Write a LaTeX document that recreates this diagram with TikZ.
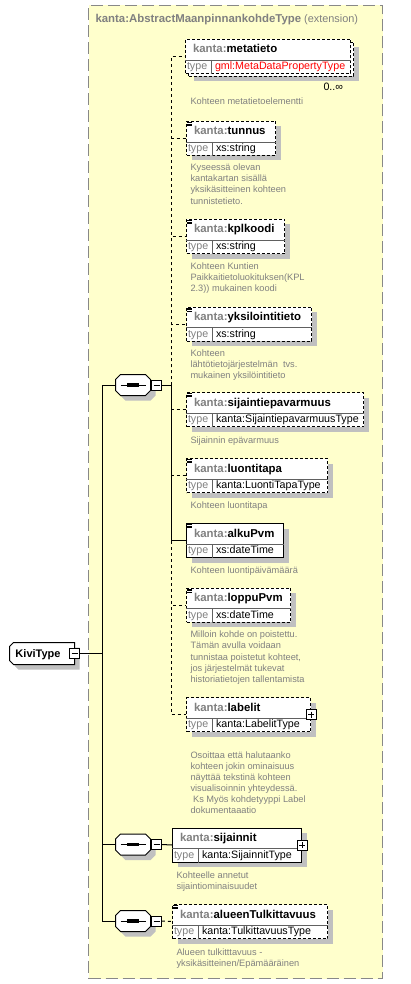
\documentclass[tikz,border=0pt]{standalone}
\usepackage{fontspec}
\setmainfont{Liberation Sans}
\usetikzlibrary{shadows,calc}
\definecolor{bgyellow}{RGB}{255,255,204}
\definecolor{frameg}{RGB}{136,136,136}
\definecolor{shadowg}{RGB}{192,192,192}
\definecolor{pfxg}{RGB}{128,128,128}
\definecolor{cmtg}{RGB}{128,128,128}
\definecolor{divg}{RGB}{96,96,96}
\definecolor{errred}{RGB}{255,0,0}
\tikzset{
  optline/.style={dash pattern=on 3pt off 3pt},
  optbox/.style={dash pattern=on 3pt off 2pt},
  reqbox/.style={solid},
  elbase/.style={draw=black,fill=white,rectangle,inner sep=0pt,minimum height=34pt,anchor=north west},
  elbox/.style={elbase,general shadow={fill=shadowg,shadow xshift=5pt,shadow yshift=-5pt}},
  divline/.style={draw=divg,line width=0.7pt,solid},
  nametxt/.style={inner sep=0pt,anchor=base west,font=\fontsize{11.4}{13}\selectfont\bfseries},
  typetxt/.style={inner sep=0pt,anchor=base west,font=\fontsize{10.7}{12}\selectfont},
  cmt/.style={inner sep=0pt,anchor=north west,align=left,text=cmtg,font=\fontsize{9.25}{11.1}\selectfont},
  togglebox/.style={draw=black,fill=white,rectangle,minimum size=10pt,inner sep=0pt,line width=0.8pt},
  minusbox/.style={togglebox,path picture={\draw[line width=0.8pt] ([xshift=2pt]path picture bounding box.west) -- ([xshift=-2pt]path picture bounding box.east);}},
  plusbox/.style={togglebox,path picture={\draw[line width=0.8pt] ([xshift=2pt]path picture bounding box.west) -- ([xshift=-2pt]path picture bounding box.east); \draw[line width=0.8pt] ([yshift=-2pt]path picture bounding box.north) -- ([yshift=2pt]path picture bounding box.south);}},
  anchorbox/.style={rectangle,inner sep=0pt},
}
\newcommand{\xel}[8]{%
  \node[#7,minimum width=#4pt] (#1) at (#2,#3) {};
  \draw[divline] ($(#1.north west)+(0,21)$) -- ($(#1.north east)+(0,21)$);
  \draw[divline] ($(#1.north west)+(26,21)$) -- ($(#1.south west)+(26,0)$);
  \node[nametxt] (#1-n) at ($(#1.north west)+(7.5,14)$) {\textcolor{pfxg}{kanta:}#5};
  \node[typetxt,text=pfxg] (#1-t) at ($(#1.north west)+(1.5,30.5)$) {type};
  \node[typetxt,text=#8] (#1-v) at ($(#1.north west)+(29.5,30.5)$) {#6};
}
\newcommand{\xicon}[1]{%
  \foreach \k in {1.5,3,4.5}{\draw[line width=0.6pt,solid] ($(#1.north west)+(1.2,\k)$) -- ++(4.8pt,0pt);}}
% octagon outline of a sequence symbol, offset by (#2,#3)
\newcommand{\octfill}[4]{%
  \path[#4] ($(#1.north west)+(5+#2,#3)$) -- ($(#1.north east)+(-5+#2,#3)$) -- ($(#1.north east)+(#2,5+#3)$) -- ($(#1.south east)+(#2,-5+#3)$) -- ($(#1.south east)+(-5+#2,#3)$) -- ($(#1.south west)+(5+#2,#3)$) -- ($(#1.south west)+(#2,-5+#3)$) -- ($(#1.north west)+(#2,5+#3)$) -- cycle;}
\newcommand{\xseq}[3]{%
  \node[anchorbox,minimum width=34pt,minimum height=20pt] (#1) at (#2,#3) {};
  \octfill{#1}{5}{5}{fill=shadowg}
  \octfill{#1}{0}{0}{fill=white,draw=black}
  \draw[line width=1pt] ($(#1.west)+(5,0)$) -- ($(#1.east)+(-5,0)$);
  \foreach \dx in {-4,0,4}{\fill ($(#1.center)+(\dx,0)$) +(-1.6pt,-1.6pt) rectangle +(1.6pt,1.6pt);}
  \node[minusbox] (#1-m) at ($(#1.east)+(6,0)$) {};
}
% complex type box with bevelled left corners
\newcommand{\cxfill}[4]{%
  \path[#4] ($(#1.north west)+(4+#2,#3)$) -- ($(#1.north east)+(#2,#3)$) -- ($(#1.south east)+(#2,#3)$) -- ($(#1.south west)+(4+#2,#3)$) -- ($(#1.south west)+(#2,-4+#3)$) -- ($(#1.north west)+(#2,4+#3)$) -- cycle;}
\begin{document}
\begin{tikzpicture}[x=1pt,y=-1pt,line width=1pt]
\useasboundingbox (0,0) rectangle (410,984);
\fill[white] (0,0) rectangle (410,984);
\node[draw=frameg,fill=bgyellow,dash pattern=on 12pt off 5pt,line width=1pt,rectangle,inner sep=0pt,minimum width=294pt,minimum height=973pt,anchor=north west] (frame) at (88,5) {};
\node[inner sep=0pt,anchor=base west,text=pfxg] (hdr) at (95,22.5) {{\fontsize{11.4}{13}\selectfont\bfseries kanta:AbstractMaanpinnankohdeType}{\fontsize{10.9}{13}\selectfont\ (extension)}};

% elements
\node[elbox,optbox,minimum width=165pt] (metatieto-b) at (188,42) {};
\xel{metatieto}{185}{39}{165}{metatieto}{gml:MetaDataPropertyType}{elbase,optbox}{errred}
\node[typetxt] (metatieto-c) at (323,91) {0..∞};
\xel{tunnus}{186}{121}{89}{tunnus}{xs:string}{elbox,optbox}{black}
\xicon{tunnus}
\xel{kplkoodi}{186}{219}{98}{kplkoodi}{xs:string}{elbox,optbox}{black}
\xicon{kplkoodi}
\xel{yksilo}{186}{306.5}{125}{yksilointitieto}{xs:string}{elbox,optbox}{black}
\xicon{yksilo}
\xel{sija}{186}{392}{177}{sijaintiepavarmuus}{kanta:SijaintiepavarmuusType}{elbox,optbox}{black}
\xicon{sija}
\xel{luontitapa}{186}{458}{141}{luontitapa}{kanta:LuontiTapaType}{elbox,optbox}{black}
\xicon{luontitapa}
\xel{alkuPvm}{186}{523}{97}{alkuPvm}{xs:dateTime}{elbox,reqbox}{black}
\xicon{alkuPvm}
\xel{loppuPvm}{186}{587.5}{104}{loppuPvm}{xs:dateTime}{elbox,optbox}{black}
\xicon{loppuPvm}
\xel{labelit}{186}{697}{124}{labelit}{kanta:LabelitType}{elbox,optbox}{black}
\node[plusbox] (labelit-x) at (labelit.east) {};
\xel{sijainnit}{172}{827.5}{129}{sijainnit}{kanta:SijainnitType}{elbox,reqbox}{black}
\node[plusbox] (sijainnit-x) at (sijainnit.east) {};
\xel{alueen}{172}{904}{155}{alueenTulkittavuus}{kanta:TulkittavuusType}{elbox,optbox}{black}
\xicon{alueen}

% comments
\node[cmt] (metatieto-d) at (190,96.3) {\rule{0pt}{8pt}Kohteen metatietoelementti};
\node[cmt] (tunnus-d) at (190,162.3) {\rule{0pt}{8pt}Kyseessä olevan\\kantakartan sisällä\\yksikäsitteinen kohteen\\tunnistetieto.};
\node[cmt] (kplkoodi-d) at (190,261) {\rule{0pt}{8pt}Kohteen Kuntien\\Paikkaitietoluokituksen(KPL\\2.3)) mukainen koodi};
\node[cmt] (yksilo-d) at (190,348) {\rule{0pt}{8pt}Kohteen\\lähtötietojärjestelmän\ \ tvs.\\mukainen yksilöintitieto};
\node[cmt] (sija-d) at (190,434.6) {\rule{0pt}{8pt}Sijainnin epävarmuus};
\node[cmt] (luontitapa-d) at (190,499.6) {\rule{0pt}{8pt}Kohteen luontitapa};
\node[cmt] (alkuPvm-d) at (190,564.6) {\rule{0pt}{8pt}Kohteen luontipäivämäärä};
\node[cmt] (loppuPvm-d) at (190,629.3) {\rule{0pt}{8pt}Milloin kohde on poistettu.\\Tämän avulla voidaan\\tunnistaa poistetut kohteet,\\jos järjestelmät tukevat\\historiatietojen tallentamista};
\node[cmt] (labelit-d) at (190,749.6) {\rule{0pt}{8pt}Osoittaa että halutaanko\\kohteen jokin ominaisuus\\näyttää tekstinä kohteen\\visualisoinnin yhteydessä.\\\hspace*{2.6pt}Ks Myös kohdetyyppi Label\\dokumentaaatio};
\node[cmt] (sijainnit-d) at (176,870.3) {\rule{0pt}{8pt}Kohteelle annetut\\sijaintiominaisuudet};
\node[cmt] (alueen-d) at (176,947) {\rule{0pt}{8pt}Alueen tulkitttavuus -\\yksikäsitteinen/Epämääräinen};

% sequences and root
\xseq{seq1}{133}{385}
\xseq{seq2}{133}{844.5}
\xseq{seq3}{133}{921}
\node[anchorbox,minimum width=64pt,minimum height=21pt] (kivi) at (42,653.5) {};
\cxfill{kivi}{5}{5}{fill=shadowg}
\cxfill{kivi}{0}{0}{fill=white,draw=black}
\node[inner sep=0pt,anchor=base west,font=\fontsize{11}{13}\selectfont\bfseries] (kivi-t) at (15,657.5) {KiviType};
\node[minusbox] (kivi-m) at (kivi.east) {};

% connectors
\coordinate (j1) at (171,385);
\coordinate (j0) at (102,653.5);
\draw (seq1-m.east) -- (j1);
\foreach \e in {metatieto,tunnus,kplkoodi,yksilo,sija,luontitapa,loppuPvm,labelit}{\draw[optline] (j1) |- (\e.west);}
\draw (j1) |- (alkuPvm.west);
\draw (kivi-m.east) -- (j0);
\draw (j0) |- (seq1.west);
\draw (j0) |- (seq2.west);
\draw (j0) |- (seq3.west);
\draw (seq2-m.east) -- (sijainnit.west);
\draw[optline] (seq3-m.east) -- (alueen.west);
\end{tikzpicture}
\end{document}
